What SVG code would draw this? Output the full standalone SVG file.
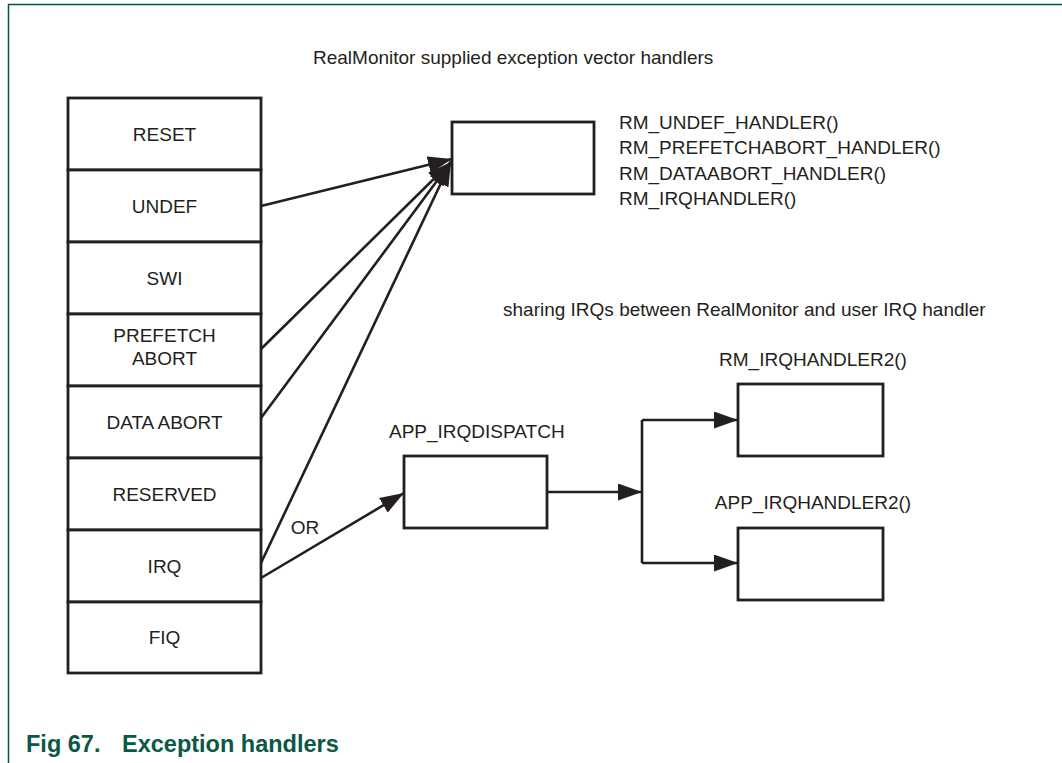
<svg xmlns="http://www.w3.org/2000/svg" width="1062" height="763" viewBox="0 0 1062 763">
<style>
text{font-family:"Liberation Sans",Arial,sans-serif;font-size:19px;fill:#231f20}
.c{text-anchor:middle}
.box{fill:#fff;stroke:#231f20;stroke-width:2.8}
.cn{fill:none;stroke:#231f20;stroke-width:2.6}
.cap{font-weight:bold;font-size:23.5px;fill:#0a5846}
</style>
<defs>
<marker id="ah" markerUnits="userSpaceOnUse" markerWidth="24" markerHeight="17" refX="24" refY="8.5" orient="auto">
<path d="M0,0 L24,8.5 L0,17 z" fill="#231f20"/>
</marker>
</defs>
<rect width="1062" height="763" fill="#fff"/>
<path d="M8.5,763 V4.5 H1062" fill="none" stroke="#00584a" stroke-width="1.5"/>
<text x="313" y="64">RealMonitor supplied exception vector handlers</text>
<g id="vector-table">
<g id="reset"><rect class="box" x="68" y="98" width="193" height="72"/><text class="c" x="164.5" y="140.8">RESET</text></g>
<g id="undef"><rect class="box" x="68" y="170" width="193" height="72"/><text class="c" x="164.5" y="212.8">UNDEF</text></g>
<g id="swi"><rect class="box" x="68" y="242" width="193" height="72"/><text class="c" x="164.5" y="284.8">SWI</text></g>
<g id="prefetch"><rect class="box" x="68" y="314" width="193" height="72"/><text class="c" x="164.5" y="341.7">PREFETCH</text><text class="c" x="164.5" y="365">ABORT</text></g>
<g id="dataabort"><rect class="box" x="68" y="386" width="193" height="72"/><text class="c" x="164.5" y="428.8">DATA ABORT</text></g>
<g id="reserved"><rect class="box" x="68" y="458" width="193" height="72"/><text class="c" x="164.5" y="500.8">RESERVED</text></g>
<g id="irq"><rect class="box" x="68" y="530" width="193" height="72"/><text class="c" x="164.5" y="572.8">IRQ</text></g>
<g id="fiq"><rect class="box" x="68" y="602" width="193" height="71"/><text class="c" x="164.5" y="643.5">FIQ</text></g>
</g>
<g id="rm-handlers">
<rect class="box" x="452" y="122" width="142" height="72"/>
<text x="619" y="128.5">RM_UNDEF_HANDLER()</text>
<text x="619" y="154">RM_PREFETCHABORT_HANDLER()</text>
<text x="619" y="179.5">RM_DATAABORT_HANDLER()</text>
<text x="619" y="205">RM_IRQHANDLER()</text>
</g>
<text x="503" y="316">sharing IRQs between RealMonitor and user IRQ handler</text>
<g id="app-irqdispatch">
<rect class="box" x="404" y="456" width="143" height="72"/>
<text x="389" y="438.3">APP_IRQDISPATCH</text>
</g>
<g id="rm-irqhandler2">
<rect class="box" x="738" y="384" width="145" height="72"/>
<text class="c" x="813" y="366">RM_IRQHANDLER2()</text>
</g>
<g id="app-irqhandler2">
<rect class="box" x="738" y="528" width="145" height="72"/>
<text class="c" x="813" y="509.3">APP_IRQHANDLER2()</text>
</g>
<g id="connectors">
<path class="cn" d="M261,206 L452,159" marker-end="url(#ah)"/>
<path class="cn" d="M261,349 L451,162" marker-end="url(#ah)"/>
<path class="cn" d="M261,418 L451,162" marker-end="url(#ah)"/>
<path class="cn" d="M261,563 L451,162" marker-end="url(#ah)"/>
<path class="cn" d="M261,578 L404,493" marker-end="url(#ah)"/>
<text x="290.7" y="534">OR</text>
<path class="cn" d="M547,492 L642,492" marker-end="url(#ah)"/>
<path class="cn" d="M642,420 V563"/>
<path class="cn" d="M642,420 L738,420" marker-end="url(#ah)"/>
<path class="cn" d="M642,563 L738,563" marker-end="url(#ah)"/>
</g>
<text class="cap" x="26" y="752">Fig 67.</text>
<text class="cap" x="122" y="752">Exception handlers</text>
</svg>
